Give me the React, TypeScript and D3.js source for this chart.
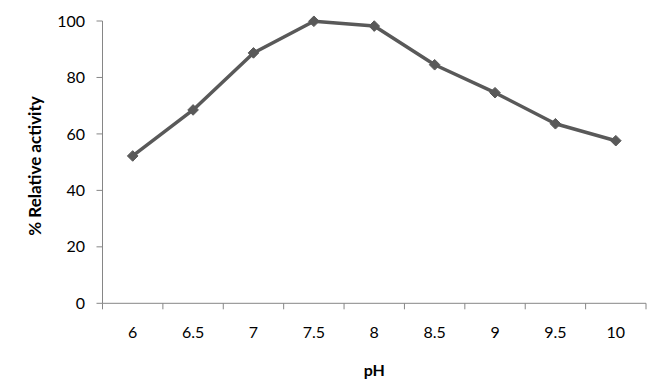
import React from "react";
import * as d3 from "d3";

const categories = ["6", "6.5", "7", "7.5", "8", "8.5", "9", "9.5", "10"];
const activity = [52.2, 68.5, 88.7, 99.9, 98.2, 84.5, 74.6, 63.6, 57.6];
const yTicks = [0, 20, 40, 60, 80, 100];

const W = 662;
const H = 391;
const left = 102.5;
const right = 646;
const top = 21;
const bottom = 303.3;

export default function App() {
  const x = d3.scaleBand<string>().domain(categories).range([left, right]).padding(0);
  const y = d3.scaleLinear().domain([0, 100]).range([bottom, top]);
  const line = d3
    .line<number>()
    .x((_, i) => (x(categories[i]) as number) + x.bandwidth() / 2)
    .y((d) => y(d));
  const axisColor = "#868686";
  const font = "Lato, 'Open Sans', sans-serif";
  const boundaries = categories.map((c) => x(c) as number).concat([right]);
  const diamond = d3.symbol().type(d3.symbolDiamond2 ?? d3.symbolDiamond).size(72)();

  return (
    <svg
      width={W}
      height={H}
      style={{ position: "absolute", left: 0, top: 0, background: "#fff" }}
    >
      <rect x={0} y={0} width={W} height={H} fill="#fff" />
      {/* Y axis */}
      <line x1={left} x2={left} y1={top} y2={bottom} stroke={axisColor} strokeWidth={1} />
      {yTicks.map((t) => (
        <g key={t}>
          <line x1={left - 6} x2={left} y1={y(t)} y2={y(t)} stroke={axisColor} />
          <text
            x={85}
            y={y(t)}
            dy="0.35em"
            textAnchor="end"
            fontFamily={font}
            fontSize={16}
            fill="#000"
          >
            {t}
          </text>
        </g>
      ))}
      {/* X axis */}
      <line x1={left} x2={right} y1={bottom} y2={bottom} stroke={axisColor} />
      {boundaries.map((b, i) => (
        <line key={i} x1={b} x2={b} y1={bottom} y2={bottom + 6} stroke={axisColor} />
      ))}
      {categories.map((c) => (
        <text
          key={c}
          x={(x(c) as number) + x.bandwidth() / 2}
          y={338}
          textAnchor="middle"
          fontFamily={font}
          fontSize={16}
          fill="#000"
        >
          {c}
        </text>
      ))}
      {/* Titles */}
      <text
        x={(left + right) / 2}
        y={376}
        textAnchor="middle"
        fontFamily={font}
        fontWeight="bold"
        fontSize={16}
        fill="#000"
      >
        pH
      </text>
      <text
        transform={`translate(40.5, 166) rotate(-90)`}
        textAnchor="middle"
        fontFamily={font}
        fontWeight="bold"
        fontSize={17}
        fill="#000"
      >
        % Relative activity
      </text>
      {/* Series */}
      <path d={line(activity) || ""} fill="none" stroke="#595959" strokeWidth={3.5} strokeLinejoin="round" />
      {activity.map((v, i) => (
        <path
          key={i}
          d={diamond || ""}
          transform={`translate(${(x(categories[i]) as number) + x.bandwidth() / 2}, ${y(v)})`}
          fill="#595959"
          stroke="#595959"
          strokeWidth={1}
        />
      ))}
    </svg>
  );
}
